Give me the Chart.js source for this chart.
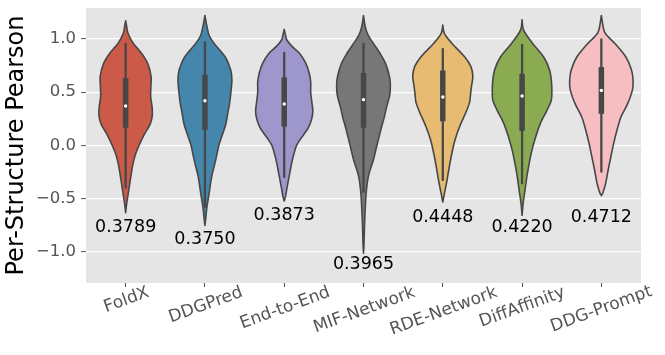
<!DOCTYPE html>
<html>
<head>
<meta charset="utf-8">
<script src="https://cdn.jsdelivr.net/npm/chart.js@4.4.0/dist/chart.umd.min.js"></script>
<style>
  html, body { margin: 0; padding: 0; background: #fff; }
  #wrap { width: 665px; height: 355px; }
</style>
</head>
<body>
<div id="wrap"><canvas id="violinChart"></canvas></div>
<script>
const methods = ['FoldX', 'DDGPred', 'End-to-End', 'MIF-Network', 'RDE-Network', 'DiffAffinity', 'DDG-Prompt'];
const meanText = ['0.3789', '0.3750', '0.3873', '0.3965', '0.4448', '0.4220', '0.4712'];
const meanTextY = [-0.75, -0.86, -0.64, -1.10, -0.655, -0.75, -0.655];
const medians = [0.37, 0.42, 0.39, 0.43, 0.455, 0.464, 0.517];
const q1 = [0.17, 0.15, 0.18, 0.17, 0.23, 0.14, 0.30];
const q3 = [0.63, 0.66, 0.636, 0.677, 0.70, 0.67, 0.733];
const whiskerLo = [-0.40, -0.58, -0.30, -0.44, -0.33, -0.36, -0.25];
const whiskerHi = [0.96, 0.975, 0.875, 0.96, 0.91, 0.95, 1.0];
const yTicks = [-1.0, -0.5, 0.0, 0.5, 1.0];
const baseColors = ['#E24A33', '#348ABD', '#988ED5', '#777777', '#FBC15E', '#8EBA42', '#FFB5B8'];

// density outlines: [pearson, relative density]
const densFoldX = [[1.17,0],[1.12,1],[1.05,2.5],[0.96,7.7],[0.87,16],[0.77,22.7],[0.65,26.2],[0.55,26],[0.46,25.8],[0.36,27.3],[0.28,27.5],[0.2,25.3],[0.1,19],[0.0,13.8],[-0.1,9.5],[-0.2,7],[-0.33,4.7],[-0.45,2.7],[-0.55,1],[-0.63,0]];
const densDDGPred = [[1.22,0],[1.12,2],[1.03,4.5],[0.96,9.3],[0.83,21],[0.71,26.5],[0.62,27.8],[0.5,26.8],[0.4,25.5],[0.3,23.5],[0.2,21.5],[0.1,18],[0.0,14.3],[-0.14,11],[-0.29,7],[-0.45,4.3],[-0.58,2],[-0.67,1],[-0.75,0]];
const densEndToEnd = [[1.09,0],[1.03,1.5],[0.99,2.7],[0.93,8],[0.865,15.7],[0.77,22.3],[0.68,25.7],[0.6,27.3],[0.5,27.3],[0.42,28.3],[0.32,29.5],[0.24,28],[0.16,24.5],[0.11,20.7],[0.05,16],[-0.01,12.3],[-0.14,8.3],[-0.26,5.7],[-0.39,3],[-0.48,1.3],[-0.52,0]];
const densMIF = [[1.22,0],[1.12,1.7],[1.04,4.5],[0.96,10],[0.87,16.7],[0.77,22.7],[0.65,26.7],[0.57,27.7],[0.47,27],[0.36,23.8],[0.25,21],[0.18,18.8],[0.0,13.8],[-0.14,10],[-0.29,5],[-0.45,2.7],[-0.61,1.7],[-0.76,1],[-0.92,0.5],[-1.01,0]];
const densRDE = [[1.13,0],[1.05,1.7],[0.96,9.3],[0.83,22.7],[0.74,29],[0.65,31],[0.55,29.5],[0.47,28.5],[0.40,27.5],[0.30,23.3],[0.18,17.5],[0.05,12.5],[-0.075,9.3],[-0.2,6.7],[-0.33,4.3],[-0.45,1.7],[-0.53,0]];
const densDiff = [[1.18,0],[1.08,1.7],[0.96,10.7],[0.83,22.3],[0.71,28.3],[0.6,30.3],[0.5,30.7],[0.42,30],[0.33,25.7],[0.21,19],[0.08,14],[-0.05,10],[-0.17,7.3],[-0.29,5],[-0.42,3],[-0.55,1],[-0.655,0]];
const densPrompt = [[1.22,0],[1.08,2.7],[1.02,7],[0.96,13.7],[0.83,25.3],[0.71,31],[0.61,32.7],[0.52,32],[0.39,27],[0.27,20.3],[0.14,16],[0.02,12.7],[-0.11,9.7],[-0.23,7],[-0.36,4.3],[-0.44,1.7],[-0.47,0]];
const densities = [densFoldX, densDDGPred, densEndToEnd, densMIF, densRDE, densDiff, densPrompt];

const FONT = "'DejaVu Sans', sans-serif";
const edgeGray = '#474747';

// seaborn-like desaturation (HLS saturation * prop)
function desat(hex, prop) {
    const r = parseInt(hex.slice(1, 3), 16) / 255;
    const g = parseInt(hex.slice(3, 5), 16) / 255;
    const b = parseInt(hex.slice(5, 7), 16) / 255;
    const max = Math.max(r, g, b), min = Math.min(r, g, b);
    const l = (max + min) / 2;
    if (max === min) return hex;
    const d = max - min;
    const s = l > 0.5 ? d / (2 - max - min) : d / (max + min);
    let h;
    if (max === r) h = ((g - b) / d) % 6;
    else if (max === g) h = (b - r) / d + 2;
    else h = (r - g) / d + 4;
    h *= 60;
    if (h < 0) h += 360;
    return `hsl(${h}, ${s * prop * 100}%, ${l * 100}%)`;
}
const fillColors = baseColors.map(c => desat(c, 0.75));

// cardinal spline through pixel points (already at pts[0])
function splineTo(ctx, pts) {
    for (let k = 0; k < pts.length - 1; k++) {
        const p0 = pts[Math.max(k - 1, 0)], p1 = pts[k], p2 = pts[k + 1], p3 = pts[Math.min(k + 2, pts.length - 1)];
        ctx.bezierCurveTo(
            p1[0] + (p2[0] - p0[0]) / 6, p1[1] + (p2[1] - p0[1]) / 6,
            p2[0] - (p3[0] - p1[0]) / 6, p2[1] - (p3[1] - p1[1]) / 6,
            p2[0], p2[1]);
    }
}

const bgPlugin = {
    id: 'ggBackground',
    beforeDraw(chart) {
        const { ctx, chartArea: a } = chart;
        ctx.save();
        ctx.fillStyle = '#E5E5E5';
        ctx.fillRect(a.left, a.top, a.right - a.left, a.bottom - a.top);
        ctx.restore();
    }
};

const violinPlugin = {
    id: 'violins',
    beforeDatasetsDraw(chart) {
        const { ctx, chartArea: a, scales: { x, y } } = chart;
        const maxDens = Math.max(...densities.flat().map(p => p[1]));
        const halfSlot = 0.4 * (x.getPixelForValue(1) - x.getPixelForValue(0));
        ctx.save();
        ctx.beginPath();
        ctx.rect(a.left, a.top, a.right - a.left, a.bottom - a.top);
        ctx.clip();
        densities.forEach((dens, i) => {
            const cx = x.getPixelForValue(i);
            const left = dens.map(p => [cx - p[1] / maxDens * halfSlot, y.getPixelForValue(p[0])]);
            const right = dens.slice().reverse().map(p => [cx + p[1] / maxDens * halfSlot, y.getPixelForValue(p[0])]);
            ctx.beginPath();
            ctx.moveTo(left[0][0], left[0][1]);
            splineTo(ctx, left);
            ctx.lineTo(right[0][0], right[0][1]);
            splineTo(ctx, right);
            ctx.closePath();
            ctx.fillStyle = fillColors[i];
            ctx.fill();
            ctx.lineWidth = 1.6;
            ctx.strokeStyle = edgeGray;
            ctx.lineJoin = 'round';
            ctx.stroke();
        });
        ctx.restore();
    }
};

const textPlugin = {
    id: 'texts',
    afterDraw(chart) {
        const { ctx, chartArea: a, scales: { x, y } } = chart;
        ctx.save();
        ctx.fillStyle = '#000';
        ctx.font = `17.5px ${FONT}`;
        ctx.textAlign = 'center';
        ctx.textBaseline = 'alphabetic';
        meanText.forEach((t, i) => {
            const m = ctx.measureText(t);
            const off = (m.actualBoundingBoxAscent - m.actualBoundingBoxDescent) / 2;
            ctx.fillText(t, x.getPixelForValue(i), y.getPixelForValue(meanTextY[i]) + off);
        });
        // rotated category labels, centred under each tick
        const ang = 20 * Math.PI / 180;
        ctx.font = `17px ${FONT}`;
        ctx.fillStyle = '#555555';
        methods.forEach((t, i) => {
            const m = ctx.measureText(t);
            const ih = m.actualBoundingBoxAscent + m.actualBoundingBoxDescent;
            const boxH = m.width * Math.sin(ang) + ih * Math.cos(ang);
            const cy = a.bottom + boxH / 2;
            ctx.save();
            ctx.translate(x.getPixelForValue(i), cy);
            ctx.rotate(-ang);
            ctx.fillText(t, 0, (m.actualBoundingBoxAscent - m.actualBoundingBoxDescent) / 2);
            ctx.restore();
        });
        ctx.restore();
    }
};

const ctx = document.getElementById('violinChart').getContext('2d');
const chart = new Chart(ctx, {
    type: 'bar',
    data: {
        labels: methods,
        datasets: [
            {
                type: 'bar',
                data: methods.map((m, i) => [whiskerLo[i], whiskerHi[i]]),
                backgroundColor: edgeGray,
                barThickness: 1.6,
                grouped: false,
                order: 3
            },
            {
                type: 'bar',
                data: methods.map((m, i) => [q1[i], q3[i]]),
                backgroundColor: edgeGray,
                barThickness: 4.8,
                grouped: false,
                order: 2
            },
            {
                type: 'line',
                data: medians,
                showLine: false,
                pointRadius: 1.7,
                pointBorderWidth: 0,
                pointBackgroundColor: '#ffffff',
                order: 1
            }
        ]
    },
    options: {
        responsive: true,
        maintainAspectRatio: false,
        animation: false,
        layout: { padding: { top: 8, right: 24, left: 0, bottom: 0 } },
        plugins: {
            legend: { display: false },
            tooltip: { enabled: false }
        },
        scales: {
            x: {
                ticks: { display: false },
                grid: { offset: false, drawOnChartArea: false, color: '#555555', tickLength: 4, lineWidth: 1 },
                border: { display: false },
                afterFit: s => { s.height = 72; s.paddingLeft = 0; s.paddingRight = 0; }
            },
            y: {
                min: -1.29,
                max: 1.29,
                afterBuildTicks: s => { s.ticks = yTicks.map(v => ({ value: v })); },
                ticks: {
                    color: '#555555',
                    padding: 5,
                    font: { family: FONT, size: 16.5 },
                    callback: v => v.toFixed(1).replace('-', '\u2212')
                },
                grid: { color: '#ffffff', lineWidth: 1.2, tickColor: '#555555', tickLength: 5, tickWidth: 1 },
                border: { display: false },
                title: {
                    display: true,
                    text: 'Per-Structure Pearson',
                    color: '#000000',
                    font: { family: FONT, size: 24 },
                    padding: { top: 2, bottom: 0 }
                },
                afterFit: s => { s.width = 86; s.paddingTop = 0; s.paddingBottom = 0; }
            }
        }
    },
    plugins: [bgPlugin, violinPlugin, textPlugin]
});
</script>
</body>
</html>
